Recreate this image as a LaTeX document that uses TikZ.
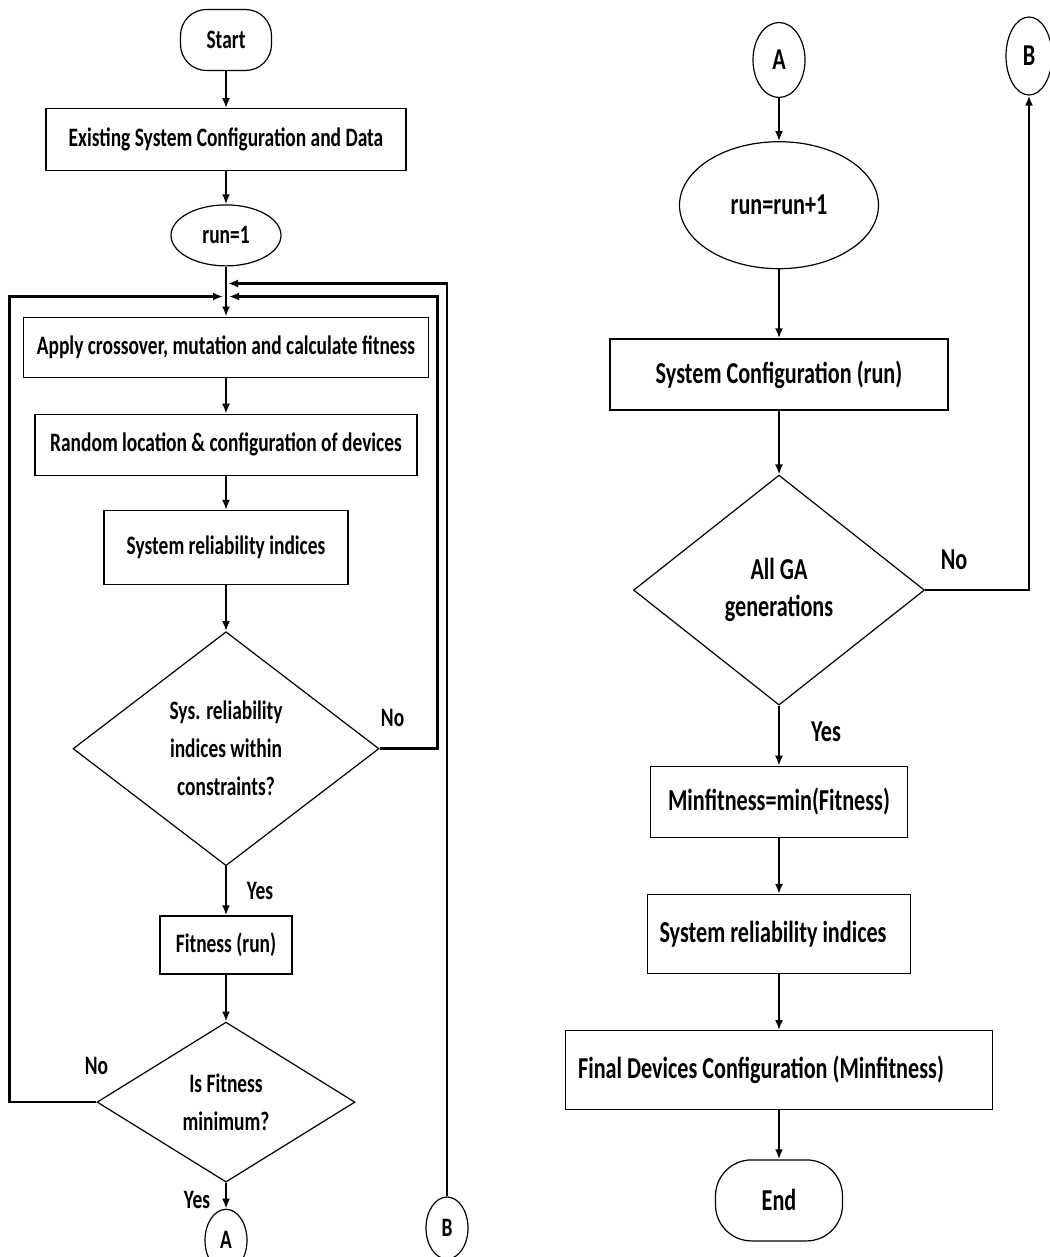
\documentclass[tikz,border=0pt]{standalone}
\usepackage{fontspec}
\setmainfont{Carlito}[FakeStretch=0.73]
\usetikzlibrary{arrows.meta,positioning,shapes.geometric}

\begin{document}
\begin{tikzpicture}[
    x=0.5pt, y=-0.5pt,
    node distance=18pt,
    font=\fontsize{13.3}{19}\selectfont\bfseries,
    big/.style={font=\fontsize{15.2}{18.5}\selectfont\bfseries},
    proc/.style={draw, line width=0.6pt, align=center, inner sep=2pt},
    term/.style={draw, line width=0.6pt, rounded corners=13pt, minimum width=45.5pt, minimum height=30.5pt},
    oval/.style={draw, line width=0.6pt, ellipse, inner sep=1pt},
    decide/.style={draw, line width=0.6pt, diamond, align=center, inner sep=0pt},
    conn/.style={draw, line width=0.6pt, ellipse, inner sep=0pt, minimum width=21pt, minimum height=31pt},
    arr/.style={-{Latex[length=5pt,width=4pt]}, line width=1pt},
    back/.style={-{Latex[length=5pt,width=4pt]}, line width=1.3pt},
    lbl/.style={inner sep=0pt},
]
\useasboundingbox (0,0) rectangle (1049,1257);

% Left column: GA loop
\node[term] (start) at (226,40) {Start};
\node[proc, minimum width=180pt, minimum height=31pt, below=18.5pt of start] (exist) {Existing System Configuration and Data};
\node[oval, minimum width=55pt, minimum height=30.5pt, below=16.5pt of exist] (run1) {run=1};
\node[proc, minimum width=202.5pt, minimum height=30pt, below=25pt of run1] (apply) {Apply crossover, mutation and calculate fitness};
\node[proc, minimum width=191pt, minimum height=30.5pt, below=18pt of apply] (rand) {Random location \& configuration of devices};
\node[proc, minimum width=122pt, minimum height=37pt, below=17pt of rand] (sri) {System reliability indices};
\node[decide, minimum width=153pt, minimum height=117pt, below=23pt of sri] (chk) {Sys. reliability\\indices within\\constraints?};
\node[proc, minimum width=66pt, minimum height=29pt, below=24.5pt of chk] (fit) {Fitness (run)};
\node[decide, aspect=1.6, minimum width=129pt, minimum height=80pt, below=23.5pt of fit] (ismin) {Is Fitness\\minimum?};
\node[conn, below=13pt of ismin] (ca) {A};
\node[conn] (cb) at (447,1228) {B};

% Right column
\begin{scope}[every node/.append style={big}]
\node[conn, minimum width=26pt, minimum height=37.5pt] (ca2) at (779,60) {A};
\node[conn, minimum width=23pt, minimum height=39pt] (cb2) at (1029,56) {B};
\node[oval, minimum width=99.5pt, minimum height=63.5pt, below=21.5pt of ca2] (runinc) {run=run+1};
\node[proc, minimum width=169pt, minimum height=35.5pt, below=34.5pt of runinc] (sysconf) {System Configuration (run)};
\node[decide, aspect=1.27, minimum width=145.5pt, minimum height=115pt, below=32pt of sysconf] (allga) {All GA\\generations};
\node[proc, minimum width=128.5pt, minimum height=35.5pt, below=30pt of allga] (minf) {Minfitness=min(Fitness)};
\node[proc, minimum width=131.5pt, minimum height=39.5pt, below=28pt of minf] (sri2) {System reliability indices\hspace{6pt}};
\node[proc, minimum width=213.5pt, minimum height=39.5pt, below=28pt of sri2] (final) {Final Devices Configuration (Minfitness)\hspace{18pt}};
\node[term, minimum width=63.5pt, minimum height=40.5pt, rounded corners=18pt, below=24.5pt of final] (endn) {End};
\node[lbl] (no3) at ([xshift=14.5pt,yshift=15pt]allga.east) {No};
\node[lbl] (yes3) at ([xshift=23.5pt,yshift=-13pt]allga.south) {Yes};
\end{scope}

% Labels
\node[lbl] (no1) at ([xshift=6.5pt,yshift=15.5pt]chk.east) {No};
\node[lbl] (yes1) at ([xshift=17pt,yshift=-12.5pt]chk.south) {Yes};
\node[lbl] (no2) at ([yshift=18pt]ismin.west) {No};
\node[lbl] (yes2) at ([xshift=-14.5pt,yshift=-8.5pt]ismin.south) {Yes};

% Left arrows
\draw[arr] (start) -- (exist);
\draw[arr] (exist) -- (run1);
\draw[arr] (run1) -- (apply);
\draw[arr] (apply) -- (rand);
\draw[arr] (rand) -- (sri);
\draw[arr] (sri) -- (chk);
\draw[arr] (chk) -- (fit);
\draw[arr] (fit) -- (ismin);
\draw[arr] (ismin) -- (ca);

% Feedback lines
\coordinate (jb) at ([yshift=16.5pt]apply.north);
\coordinate (ja) at ([yshift=10pt]apply.north);
\draw[back] (cb) |- ([xshift=1pt]jb);
\draw[back] (chk.east) -- ++(29pt,0pt) |- ([xshift=1.5pt]ja);
\draw[back] (ismin.west) -- ++(-43.5pt,0pt) |- ([xshift=-1.5pt]ja);

% Right arrows
\draw[arr] (ca2) -- (runinc);
\draw[arr] (runinc) -- (sysconf);
\draw[arr] (sysconf) -- (allga);
\draw[arr] (allga) -- (minf);
\draw[arr] (minf) -- (sri2);
\draw[arr] (sri2) -- (final);
\draw[arr] (final) -- (endn);
\draw[back] (allga.east) -| (cb2);
\end{tikzpicture}
\end{document}
